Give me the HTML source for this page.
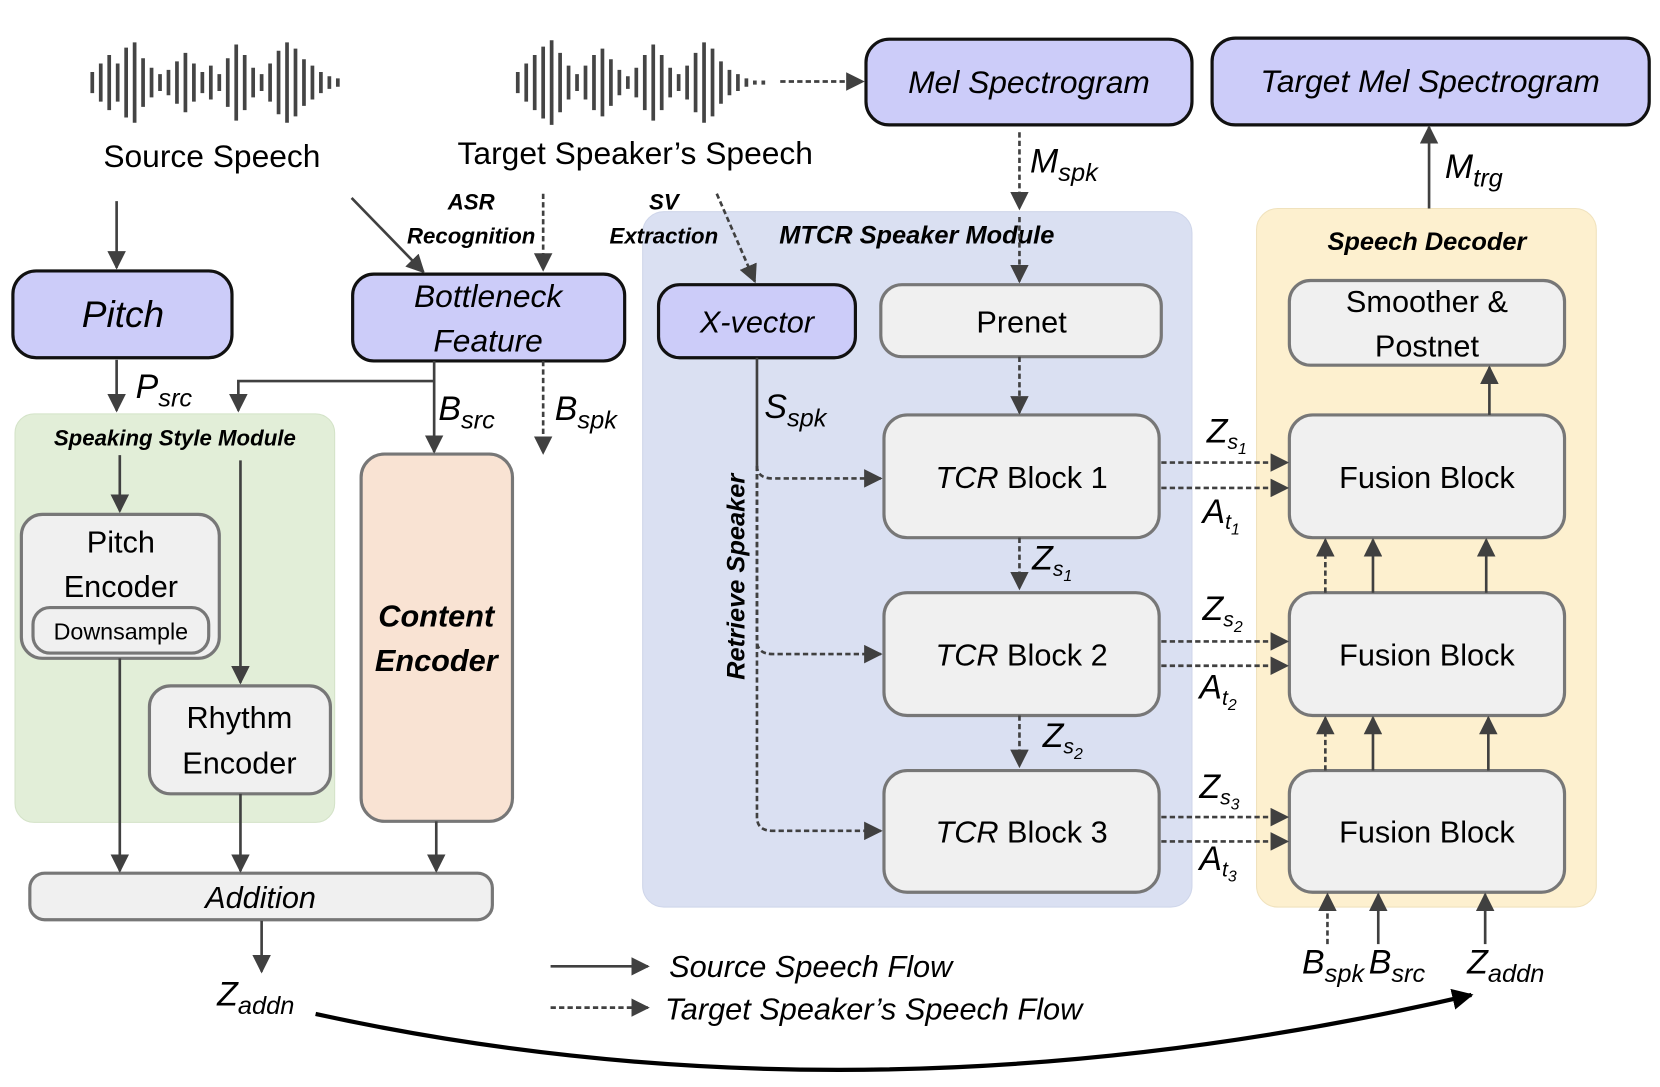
<!DOCTYPE html>
<html><head><meta charset="utf-8"><style>
html,body{margin:0;padding:0;background:#fff}
svg{display:block}
text{font-family:"Liberation Sans",sans-serif}
.it{font-style:italic}
.m{font-family:"Liberation Serif",serif;font-style:italic}
</style></head><body>
<svg width="1660" height="1087" viewBox="0 0 1568 1027" xmlns="http://www.w3.org/2000/svg">
<defs>
<marker id="a" viewBox="0 0 10 10" refX="9" refY="5" markerWidth="7" markerHeight="7" orient="auto"><path d="M0,0 L10,5 L0,10 z" fill="#404040"/></marker>
<marker id="b" viewBox="0 0 10 10" refX="9" refY="5" markerWidth="5" markerHeight="5" orient="auto"><path d="M0,0 L10,5 L0,10 z" fill="#000"/></marker>
</defs>
<g stroke="#444" stroke-width="3.5">
<path d="M87,68v20M95,60v36M103,52v52M111,60v36M119,45v66M127,40v76M135,55v46M143,64v28M151,70v16M159,66v24M167,58v40M175,50v56M183,60v36M191,68v20M199,62v32M207,70v16M215,55v46M223,42v72M231,52v52M239,64v28M247,70v16M255,60v36M263,48v60M271,40v76M279,46v64M287,56v44M295,62v32M303,68v20M311,72v12M319,74v8"/>
<path d="M489,68v20M497,60v36M505,52v52M513,44v68M521,38v80M529,50v56M537,62v32M545,70v16M553,62v32M561,52v52M569,46v64M577,56v44M585,66v24M593,72v12M601,64v28M609,52v52M617,42v72M625,52v52M633,64v28M641,70v16M649,62v32M657,50v56M665,40v76M673,46v64M681,58v40M689,66v24M697,70v16M705,74v8M713,76v4M721,76v4"/>
</g>
<text x="200" y="158" font-size="30" text-anchor="middle">Source Speech</text>
<text x="600" y="155" font-size="30" text-anchor="middle">Target Speaker’s Speech</text>
<rect x="607" y="200" width="519" height="657" rx="20" fill="#dae0f2" stroke="#cfd6ea"/>
<rect x="1187" y="197" width="321" height="660" rx="20" fill="#fdf0cf" stroke="#f0e2bd"/>
<rect x="14" y="391" width="302" height="386" rx="18" fill="#e2eed8" stroke="#d4e3c8"/>
<g stroke="#111" stroke-width="3" fill="#ccccf9">
<rect x="818" y="37" width="308" height="81" rx="22"/>
<rect x="1145" y="36" width="413" height="82" rx="22"/>
<rect x="12" y="256" width="207" height="82" rx="22"/>
<rect x="333" y="259" width="257" height="82" rx="20"/>
<rect x="622" y="269" width="186" height="69" rx="20"/>
</g>
<text x="972" y="88" font-size="30" class="it" text-anchor="middle">Mel Spectrogram</text>
<text x="1351" y="87" font-size="30" class="it" text-anchor="middle">Target Mel Spectrogram</text>
<text x="116" y="309" font-size="35" class="it" text-anchor="middle">Pitch</text>
<text x="461" y="290" font-size="30" class="it" text-anchor="middle">Bottleneck</text>
<text x="461" y="332" font-size="30" class="it" text-anchor="middle">Feature</text>
<text x="715" y="314" font-size="29" class="it" text-anchor="middle">X-vector</text>
<g stroke="#777" stroke-width="3" fill="#f0f0f0">
<rect x="832" y="269" width="265" height="68" rx="20"/>
<rect x="835" y="392" width="260" height="116" rx="22"/>
<rect x="835" y="560" width="260" height="116" rx="22"/>
<rect x="835" y="728" width="260" height="115" rx="22"/>
<rect x="1218" y="265" width="260" height="80" rx="20"/>
<rect x="1218" y="392" width="260" height="116" rx="22"/>
<rect x="1218" y="560" width="260" height="116" rx="22"/>
<rect x="1218" y="728" width="260" height="115" rx="22"/>
<rect x="20" y="486" width="187" height="136" rx="20"/>
<rect x="31" y="574" width="166" height="43" rx="16"/>
<rect x="141" y="648" width="171" height="102" rx="20"/>
<rect x="28" y="825" width="437" height="44" rx="14"/>
</g>
<rect x="341" y="429" width="143" height="347" rx="22" fill="#f9e3d3" stroke="#777" stroke-width="3"/>
<g font-size="29" text-anchor="middle">
<text x="965" y="314">Prenet</text>
<text x="965" y="461"><tspan class="it">TCR</tspan> Block 1</text>
<text x="965" y="629"><tspan class="it">TCR</tspan> Block 2</text>
<text x="965" y="796"><tspan class="it">TCR</tspan> Block 3</text>
<text x="1348" y="295">Smoother &amp;</text>
<text x="1348" y="337">Postnet</text>
<text x="1348" y="461">Fusion Block</text>
<text x="1348" y="629">Fusion Block</text>
<text x="1348" y="796">Fusion Block</text>
<text x="114" y="522">Pitch</text>
<text x="114" y="564">Encoder</text>
<text x="114" y="604" font-size="22">Downsample</text>
<text x="226" y="688">Rhythm</text>
<text x="226" y="731">Encoder</text>
<text x="246" y="858" class="it">Addition</text>
<text x="412" y="592" class="it" font-weight="bold">Content</text>
<text x="412" y="634" class="it" font-weight="bold">Encoder</text>
</g>
<g font-size="21" font-weight="bold" class="it" text-anchor="middle">
<text x="866" y="230" font-size="24">MTCR Speaker Module</text>
<text x="1348" y="236" font-size="24">Speech Decoder</text>
<text x="165" y="421">Speaking Style Module</text>
<text x="445" y="198">ASR</text>
<text x="445" y="230">Recognition</text>
<text x="627" y="198">SV</text>
<text x="627" y="230">Extraction</text>
<text transform="translate(703,545) rotate(-90)" font-size="24">Retrieve Speaker</text>
</g>
<g stroke="#404040" stroke-width="2.5" fill="none" marker-end="url(#a)">
<path d="M1350,197V120"/>
<path d="M110,190V253"/>
<path d="M332,187L400,257"/>
<path d="M110,340V388"/>
<path d="M410,341V427"/>
<path d="M410,360H225V388"/>
<path d="M113,430V483"/>
<path d="M227,435V645"/>
<path d="M113,622V823"/>
<path d="M227,750V823"/>
<path d="M412,776V823"/>
<path d="M247,870V918"/>
<path d="M1407,392V347"/>
<path d="M1297,560V510"/><path d="M1404,560V510"/>
<path d="M1297,728V678"/><path d="M1406,728V678"/>
<path d="M1302,892V845"/><path d="M1403,892V845"/>
<path d="M520,913H612"/>
</g>
<path d="M715,338V440" stroke="#404040" stroke-width="2.5"/>
<g stroke="#404040" stroke-width="2.5" fill="none" stroke-dasharray="5,3" marker-end="url(#a)">
<path d="M737,77H815"/>
<path d="M963,125V197"/>
<path d="M963,205V266"/>
<path d="M963,337V390"/>
<path d="M963,508V556"/>
<path d="M963,676V724"/>
<path d="M513,183V255"/>
<path d="M513,341V428"/>
<path d="M677,183L713,266"/>
<path d="M715,440Q715,452 730,452H832"/>
<path d="M715,440V605Q715,618 730,618H832"/>
<path d="M715,440V772Q715,785 730,785H832"/>
<path d="M1097,437H1216"/><path d="M1097,461H1216"/>
<path d="M1097,606H1216"/><path d="M1097,629H1216"/>
<path d="M1097,772H1216"/><path d="M1097,795H1216"/>
<path d="M1252,560V510"/><path d="M1252,728V678"/>
<path d="M1254,892V845"/>
<path d="M520,952H612"/>
</g>
<path d="M298,958 Q820,1072 1390,940" stroke="#000" stroke-width="4" fill="none" marker-end="url(#b)"/>
<text x="632" y="923" font-size="29" class="it">Source Speech Flow</text>
<text x="628" y="963" font-size="29" class="it">Target Speaker’s Speech Flow</text>
<g class="m" font-size="32">
<text x="973" y="163">M<tspan font-size="24" dy="8">spk</tspan></text>
<text x="1365" y="168">M<tspan font-size="24" dy="8">trg</tspan></text>
<text x="128" y="376">P<tspan font-size="24" dy="8">src</tspan></text>
<text x="414" y="397">B<tspan font-size="24" dy="8">src</tspan></text>
<text x="524" y="397">B<tspan font-size="24" dy="8">spk</tspan></text>
<text x="722" y="395">S<tspan font-size="24" dy="8">spk</tspan></text>
<text x="1140" y="418">Z<tspan font-size="20" dy="6">s</tspan><tspan font-size="15" dy="5">1</tspan></text>
<text x="1136" y="494">A<tspan font-size="20" dy="6">t</tspan><tspan font-size="15" dy="5">1</tspan></text>
<text x="1136" y="586">Z<tspan font-size="20" dy="6">s</tspan><tspan font-size="15" dy="5">2</tspan></text>
<text x="1133" y="660">A<tspan font-size="20" dy="6">t</tspan><tspan font-size="15" dy="5">2</tspan></text>
<text x="1133" y="754">Z<tspan font-size="20" dy="6">s</tspan><tspan font-size="15" dy="5">3</tspan></text>
<text x="1133" y="822">A<tspan font-size="20" dy="6">t</tspan><tspan font-size="15" dy="5">3</tspan></text>
<text x="975" y="538">Z<tspan font-size="20" dy="6">s</tspan><tspan font-size="15" dy="5">1</tspan></text>
<text x="985" y="706">Z<tspan font-size="20" dy="6">s</tspan><tspan font-size="15" dy="5">2</tspan></text>
<text x="205" y="950">Z<tspan font-size="24" dy="8">addn</tspan></text>
<text x="1230" y="920">B<tspan font-size="24" dy="8">spk</tspan></text>
<text x="1293" y="920">B<tspan font-size="24" dy="8">src</tspan></text>
<text x="1386" y="920">Z<tspan font-size="24" dy="8">addn</tspan></text>
</g>
</svg>
</body></html>
